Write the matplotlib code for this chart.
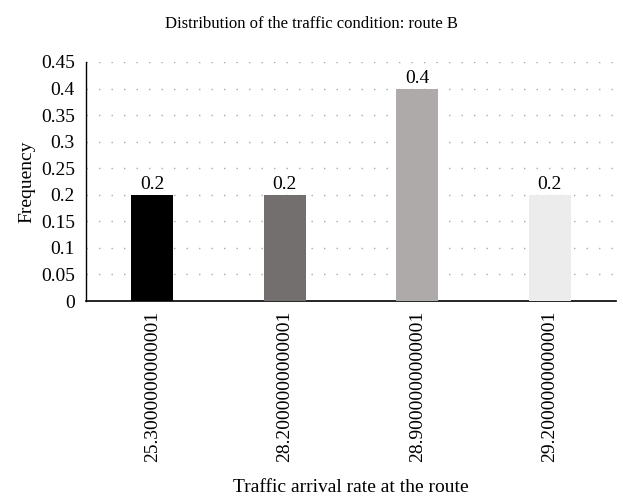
import numpy as np
import matplotlib
matplotlib.use('Agg')
import matplotlib.pyplot as plt

plt.rcParams['font.family'] = ['Liberation Serif', 'DejaVu Serif']

categories = ['25.3000000000001', '28.2000000000001', '28.9000000000001', '29.2000000000001']
frequency = [0.2, 0.2, 0.4, 0.2]
bar_colors = ['#000000', '#736f6f', '#aeaaaa', '#ececec']
y_ticks = [0, 0.05, 0.1, 0.15, 0.2, 0.25, 0.3, 0.35, 0.4, 0.45]
y_labels = ['0', '0.05', '0.1', '0.15', '0.2', '0.25', '0.3', '0.35', '0.4', '0.45']

fig = plt.figure(figsize=(6.23, 5.0), dpi=100)
ax = fig.add_axes([86/623, 1 - 301/500, 530/623, 239/500])

x = np.arange(len(categories))
bars = ax.bar(x, frequency, width=0.32, color=bar_colors, zorder=3)
for b, v in zip(bars, frequency):
  ax.text(b.get_x() + b.get_width()/2, v + 0.003, '{:g}'.format(v),
          ha='center', va='bottom', fontsize=14)

ax.set_xlim(-0.5, len(categories) - 0.5)
ax.set_ylim(0, 0.45)
ax.set_yticks(y_ticks)
ax.set_yticklabels(y_labels, fontsize=14)
ax.set_xticks(x)
ax.set_xticklabels(categories, rotation=90, fontsize=14)
ax.tick_params(axis='y', length=0, pad=8)
ax.tick_params(axis='x', length=0, pad=7)
ax.yaxis.grid(True, linestyle=(0, (1, 8)), color='#aaaaaa', linewidth=1.0, zorder=0)

for s in ['top', 'right']:
  ax.spines[s].set_visible(False)
ax.spines['left'].set_linewidth(1.0)
ax.spines['bottom'].set_linewidth(1.2)

ax.set_ylabel('Frequency', fontsize=14, labelpad=4)
ax.set_xlabel('Traffic arrival rate at the route', fontsize=14, labelpad=12)
fig.text(0.5, 1 - 24/500, 'Distribution of the traffic condition: route B',
         ha='center', va='center', fontsize=12)

fig.savefig('out.png', dpi=100)
